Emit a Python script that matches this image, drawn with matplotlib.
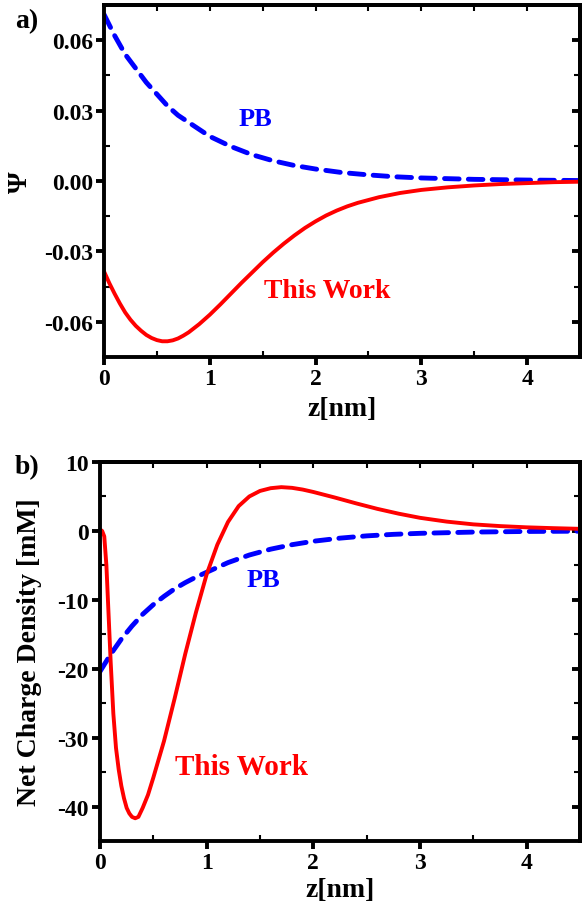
import matplotlib
matplotlib.use('Agg')
import matplotlib.pyplot as plt
import numpy as np
from matplotlib.ticker import MultipleLocator

plt.rcParams['font.family'] = ['Liberation Serif', 'DejaVu Serif']
plt.rcParams['font.weight'] = 'bold'

# panel a) potential
z_pb_a = [0.0, 0.1, 0.2, 0.3, 0.4, 0.5, 0.6, 0.7, 0.8, 0.9, 1.0, 1.2, 1.4, 1.6, 1.8,
          2.0, 2.25, 2.5, 2.75, 3.0, 3.5, 4.0, 4.5]
psi_pb = [0.071, 0.062, 0.054, 0.048, 0.042, 0.037, 0.032, 0.028, 0.025, 0.022, 0.019,
          0.0147, 0.0112, 0.0086, 0.0066, 0.0051, 0.0036, 0.0026, 0.0018, 0.0013,
          0.0007, 0.0004, 0.0002]

z_tw_a = [0.0, 0.05, 0.1, 0.15, 0.2, 0.25, 0.3, 0.35, 0.4, 0.45, 0.5, 0.55, 0.6, 0.65,
          0.7, 0.75, 0.8, 0.9, 1.0, 1.1, 1.2, 1.3, 1.4, 1.5, 1.6, 1.7, 1.8, 1.9, 2.0,
          2.1, 2.2, 2.3, 2.4, 2.6, 2.8, 3.0, 3.25, 3.5, 3.75, 4.0, 4.25, 4.5]
psi_tw = [-0.0385, -0.0435, -0.048, -0.0522, -0.056, -0.0591, -0.0617, -0.0638, -0.0656,
          -0.0669, -0.0678, -0.0683, -0.0683, -0.0679, -0.0671, -0.0659, -0.0645, -0.061,
          -0.057, -0.0526, -0.048, -0.0434, -0.039, -0.0346, -0.0305, -0.0267, -0.0232,
          -0.0200, -0.0172, -0.0147, -0.0126, -0.0108, -0.0093, -0.0069, -0.0051, -0.0038,
          -0.0027, -0.0019, -0.0013, -0.0009, -0.0005, -0.0003]

# panel b) net charge density
z_pb_b = [0.0, 0.1, 0.2, 0.3, 0.4, 0.5, 0.6, 0.7, 0.8, 0.9, 1.0, 1.2, 1.4, 1.6, 1.8,
          2.0, 2.25, 2.5, 2.75, 3.0, 3.5, 4.0, 4.5]
rho_pb = [-20.4, -17.9, -15.7, -13.8, -12.1, -10.7, -9.5, -8.4, -7.5, -6.7, -6.0, -4.6,
          -3.5, -2.65, -2.0, -1.5, -1.05, -0.72, -0.5, -0.35, -0.17, -0.08, -0.04]

z_tw_b = [0.0, 0.02, 0.04, 0.06, 0.08, 0.1, 0.125, 0.15, 0.175, 0.2, 0.225, 0.25, 0.275,
          0.3, 0.33, 0.36, 0.4, 0.45, 0.5, 0.6, 0.7, 0.8, 0.9, 1.0, 1.1, 1.2, 1.3, 1.4,
          1.5, 1.6, 1.7, 1.8, 1.9, 2.0, 2.2, 2.4, 2.6, 2.8, 3.0, 3.25, 3.5, 3.75, 4.0,
          4.25, 4.5]
rho_tw = [0.2, 0.0, -0.8, -5, -12, -19, -26.5, -31.5, -34.6, -37, -38.8, -40.2, -41.0,
          -41.5, -41.7, -41.5, -40.2, -38.3, -35.8, -30.5, -24.3, -17.8, -11.8, -6.3,
          -2.0, 1.3, 3.6, 5.0, 5.8, 6.2, 6.35, 6.25, 6.0, 5.65, 4.85, 4.0, 3.2, 2.5, 1.9,
          1.35, 0.95, 0.7, 0.52, 0.4, 0.3]

x_ticks = [0, 1, 2, 3, 4]
x_ticklabels = ['0', '1', '2', '3', '4']
ya_ticks = [0.06, 0.03, 0.0, -0.03, -0.06]
ya_ticklabels = ['0.06', '0.03', '0.00', '-0.03', '-0.06']
yb_ticks = [10, 0, -10, -20, -30, -40]
yb_ticklabels = ['10', '0', '-10', '-20', '-30', '-40']

blue = '#0000ff'
red = '#ff0000'


def style_axes(ax, yminor):
    for s in ax.spines.values():
        s.set_linewidth(2.8)
    ax.xaxis.set_minor_locator(MultipleLocator(0.5))
    ax.yaxis.set_minor_locator(MultipleLocator(yminor))
    ax.tick_params(which='major', direction='out', length=6, width=2.8,
                   labelsize=17, pad=2)
    ax.tick_params(which='minor', direction='in', length=4, width=1.5)
    for lab in ax.get_xticklabels() + ax.get_yticklabels():
        lab.set_fontweight('bold')
    # top and right: inward ticks, no labels
    sx = ax.secondary_xaxis('top')
    sx.set_xticks(ax.get_xticks())
    sx.xaxis.set_minor_locator(MultipleLocator(0.5))
    sx.tick_params(which='major', direction='in', length=4, width=1.5, labeltop=False)
    sx.tick_params(which='minor', direction='in', length=4, width=1.5)
    sx.spines['top'].set_linewidth(2.8)
    sy = ax.secondary_yaxis('right')
    sy.set_yticks(ax.get_yticks())
    sy.yaxis.set_minor_locator(MultipleLocator(yminor))
    sy.tick_params(which='major', direction='in', length=6, width=2.8, labelright=False)
    sy.tick_params(which='minor', direction='in', length=4, width=1.5)
    sy.spines['right'].set_linewidth(2.8)


fig = plt.figure(figsize=(5.82, 9.04), dpi=100)
dash = (0, (3.0, 1.9))

# ---- a)
ax1 = fig.add_axes([104 / 582, 1 - 358 / 904, 476 / 582, 352 / 904])
ax1.plot(z_pb_a, psi_pb, color=blue, lw=3.5, ls=dash, dash_capstyle='round')
ax1.plot(z_tw_a, psi_tw, color=red, lw=2.8, solid_joinstyle='round')
ax1.set_xlim(0, 4.5)
ax1.set_ylim(-0.075, 0.075)
ax1.set_xticks(x_ticks)
ax1.set_xticklabels(x_ticklabels)
ax1.set_yticks(ya_ticks)
ax1.set_yticklabels(ya_ticklabels)
style_axes(ax1, 0.015)
ax1.set_xlabel('z[nm]', fontsize=20, fontweight='bold')
ax1.xaxis.set_label_coords(0.5, -0.11)
ax1.set_ylabel('\u03a8', fontsize=20, fontweight='bold')
ax1.yaxis.set_label_coords(-0.149, 0.5)
ax1.text(1.43, 0.0265, 'PB', color=blue, fontsize=19, fontweight='bold', ha='center', va='center')
ax1.text(2.11, -0.0465, 'This Work', color=red, fontsize=20, fontweight='bold', ha='center', va='center')

# ---- b)
ax2 = fig.add_axes([100 / 582, 1 - 842 / 904, 480 / 582, 379 / 904])
ax2.plot(z_pb_b, rho_pb, color=blue, lw=3.5, ls=dash, dash_capstyle='round')
ax2.plot(z_tw_b, rho_tw, color=red, lw=2.8, solid_joinstyle='round')
ax2.set_xlim(0, 4.5)
ax2.set_ylim(-45, 10)
ax2.set_xticks(x_ticks)
ax2.set_xticklabels(x_ticklabels)
ax2.set_yticks(yb_ticks)
ax2.set_yticklabels(yb_ticklabels)
style_axes(ax2, 5)
ax2.set_xlabel('z[nm]', fontsize=20, fontweight='bold')
ax2.xaxis.set_label_coords(0.5, -0.095)
ax2.set_ylabel('Net Charge Density [mM]', fontsize=20, fontweight='bold')
ax2.yaxis.set_label_coords(-0.121, 0.5)
ax2.text(1.53, -7.0, 'PB', color=blue, fontsize=19, fontweight='bold', ha='center', va='center')
ax2.text(1.33, -34.2, 'This Work', color=red, fontsize=21, fontweight='bold', ha='center', va='center')

fig.text(27 / 582, 1 - 22 / 904, 'a)', fontsize=20, fontweight='bold', ha='center', va='center')
fig.text(27 / 582, 1 - 468 / 904, 'b)', fontsize=20, fontweight='bold', ha='center', va='center')

fig.savefig('out.png', dpi=100)
